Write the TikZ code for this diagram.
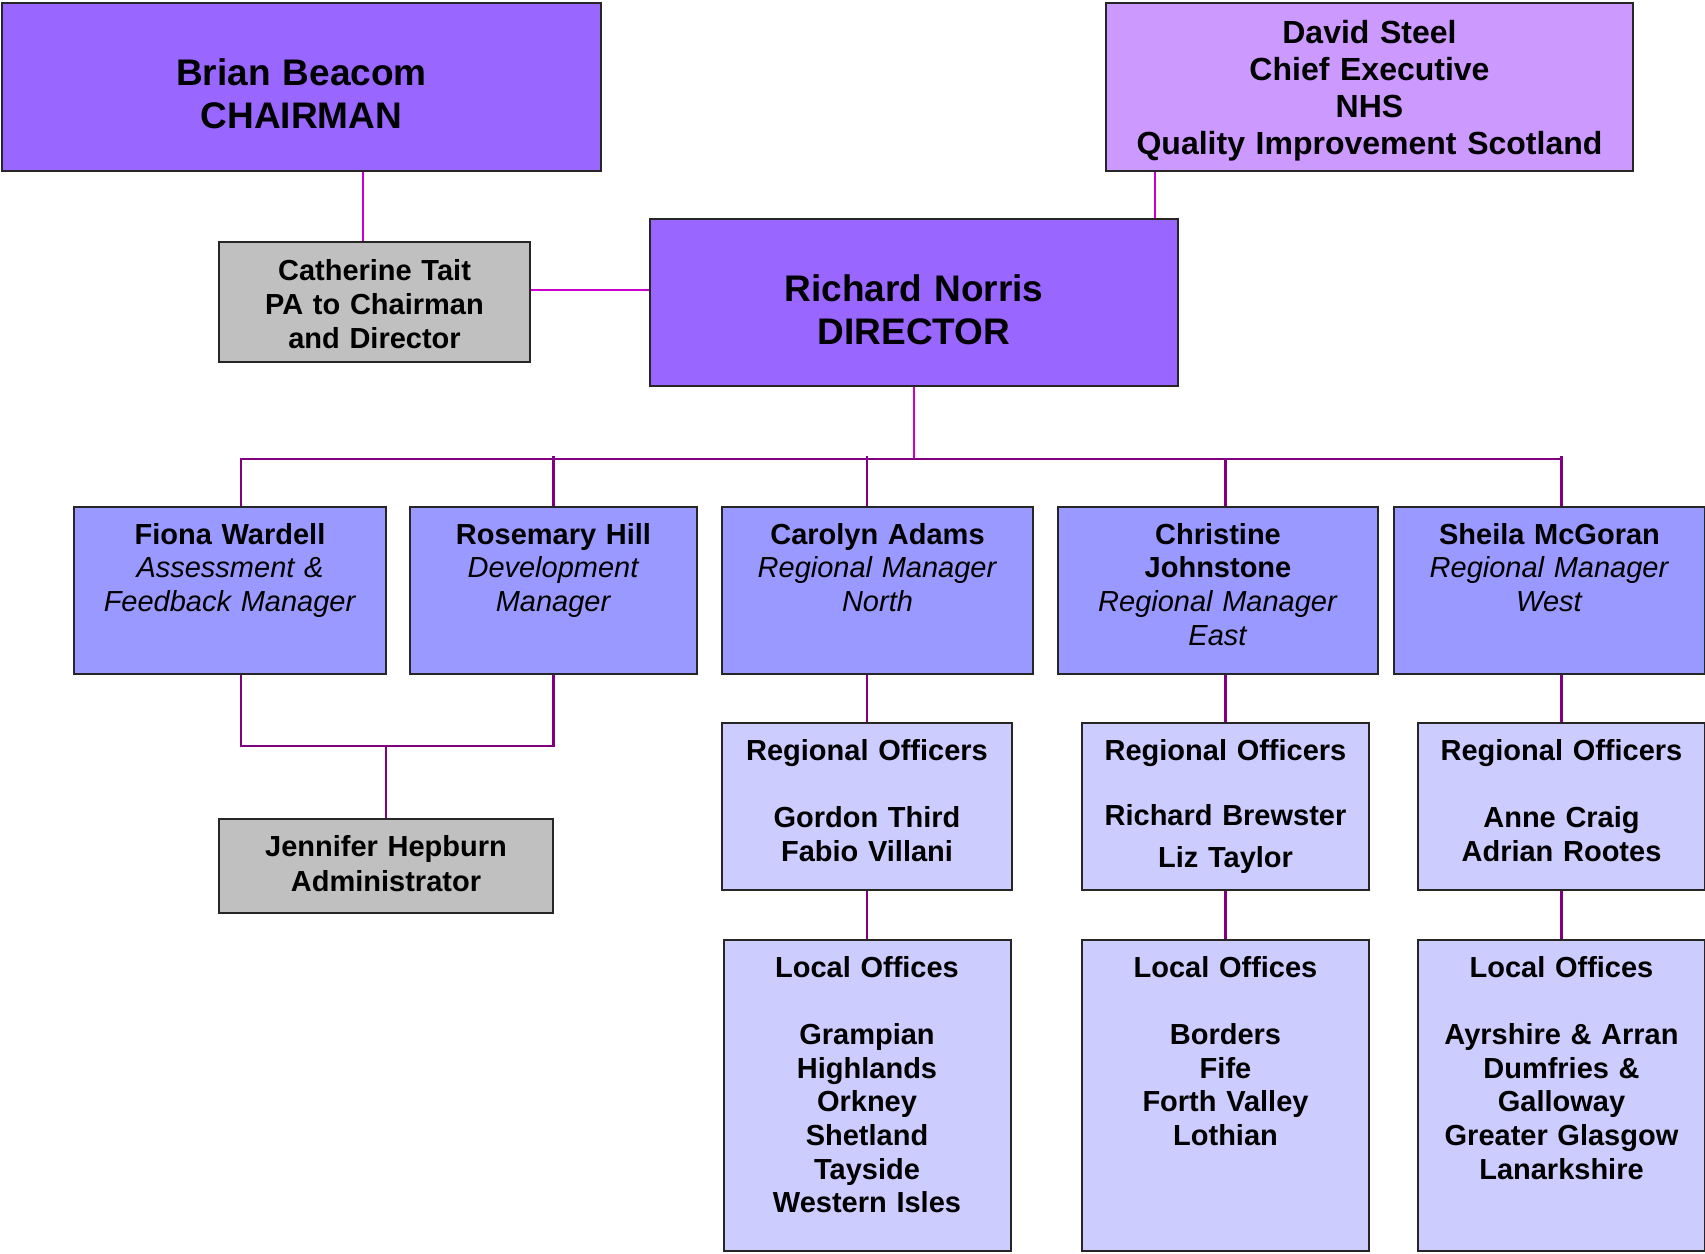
\documentclass[tikz,border=0pt]{standalone}
\usepackage{fontspec}
\setmainfont{Liberation Sans}
\usetikzlibrary{positioning}
\definecolor{chiefc}{HTML}{9966FF}
\definecolor{execc}{HTML}{CC99FF}
\definecolor{mgrc}{HTML}{9999FF}
\definecolor{palec}{HTML}{CCCCFF}
\definecolor{greyc}{HTML}{C0C0C0}
\definecolor{hilink}{HTML}{CC00CC}
\definecolor{lolink}{HTML}{800080}
\tikzset{
  card/.style={draw=black!85, line width=1pt, inner sep=0pt, align=center},
  topbox/.style n args={4}{card, text width=#1, text height=#2, text depth=#3, fill=#4},
  bigtxt/.style={font=\fontsize{18.5}{21.75}\selectfont\bfseries},
  midtxt/.style={font=\fontsize{16}{18.5}\selectfont\bfseries},
  smalltxt/.style={font=\fontsize{14.5}{16.85}\selectfont},
  smallbold/.style={font=\fontsize{14.5}{16.85}\selectfont\bfseries},
  hiline/.style={draw=hilink, line width=1pt},
  loline/.style={draw=lolink, line width=1.2pt}
}

\begin{document}
\begin{tikzpicture}[x=0.5pt, y=-0.5pt, node distance=24pt]
    \useasboundingbox (0,0) rectangle (1705,1254);

    \node[topbox={299.5pt}{41pt}{43pt}{chiefc}, bigtxt] (chair) at (301.5,87) {Brian Beacom\\CHAIRMAN};
    \node[topbox={263.5pt}{20pt}{64pt}{execc}, midtxt] (steel) at (1369.5,87) {David Steel\\Chief Executive\\NHS\\Quality Improvement Scotland};
    \node[topbox={155.5pt}{19pt}{41pt}{greyc}, font=\fontsize{14.5}{17}\selectfont\bfseries] (tait) at (374.5,302) {Catherine Tait\\PA to Chairman\\and Director};
    \node[topbox={264pt}{41.2pt}{42.3pt}{chiefc}, bigtxt] (norris) at (914,302.5) {Richard Norris\\DIRECTOR};

    \node[topbox={156pt}{18.5pt}{65pt}{mgrc}, smalltxt] (wardell) at (230,590.5) {\textbf{Fiona Wardell}\\\textit{Assessment \&}\\\textit{Feedback Manager}};
    \node[topbox={143.5pt}{18.5pt}{65pt}{mgrc}, smalltxt] (hill) at (553.5,590.5) {\textbf{Rosemary Hill}\\\textit{Development}\\\textit{Manager}};
    \node[topbox={155.5pt}{18.5pt}{65pt}{mgrc}, smalltxt] (adams) at (877.5,590.5) {\textbf{Carolyn Adams}\\\textit{Regional Manager}\\\textit{North}};
    \node[topbox={160pt}{18.5pt}{65pt}{mgrc}, smalltxt] (johnstone) at (1218,590.5) {\textbf{Christine}\\\textbf{Johnstone}\\\textit{Regional Manager}\\\textit{East}};
    \node[topbox={155.5pt}{18.5pt}{65pt}{mgrc}, smalltxt] (mcgoran) at (1549.5,590.5) {\textbf{Sheila McGoran}\\\textit{Regional Manager}\\\textit{West}};

    \node[topbox={167pt}{18.75pt}{28.25pt}{greyc}, font=\fontsize{14.5}{17.4}\selectfont\bfseries] (hepburn) at (386,866) {Jennifer Hepburn\\Administrator};

    \node[topbox={145pt}{18.5pt}{65pt}{palec}, smallbold] (ron) at (867,806.5) {Regional Officers\\[16.85pt]Gordon Third\\Fabio Villani};
    \node[topbox={143.5pt}{18.5pt}{65pt}{palec}, smallbold] (roe) at (1225.5,806.5) {Regional Officers\\[15.8pt]Richard Brewster\\[4.4pt]Liz Taylor};
    \node[topbox={143.5pt}{18.5pt}{65pt}{palec}, smallbold] (row) at (1561.5,806.5) {Regional Officers\\[16.85pt]Anne Craig\\Adrian Rootes};

    \node[topbox={143.5pt}{18.5pt}{137pt}{palec}, smallbold, below=of ron] (lon) {Local Offices\\[16.85pt]Grampian\\Highlands\\Orkney\\Shetland\\Tayside\\Western Isles};
    \node[topbox={143.5pt}{18.5pt}{137pt}{palec}, smallbold, below=of roe] (loe) {Local Offices\\[16.85pt]Borders\\Fife\\Forth Valley\\Lothian};
    \node[topbox={143.5pt}{18.5pt}{137pt}{palec}, smallbold, below=of row] (low) {Local Offices\\[16.85pt]Ayrshire \& Arran\\Dumfries \&\\Galloway\\Greater Glasgow\\Lanarkshire};

    \coordinate (bus) at (913,459);
    \coordinate (merge) at (386,746);

    \draw[hiline] ([xshift=-6pt]tait.north) -- ([xshift=-6pt]tait.north |- chair.south);
    \draw[hiline] ([yshift=6pt]tait.east) -- ([yshift=6pt]tait.east -| norris.west);
    \draw[hiline] ([xshift=-12pt]norris.north east) -- ([xshift=-12pt]norris.north east |- steel.south);
    \draw[hiline] (norris.south) -- (norris.south |- bus);

    \draw[loline] ([xshift=5.5pt]wardell.north) |- (bus) -| (row.north |- mcgoran.north);
    \draw[loline] ([yshift=1.5pt]hill.north |- bus) -- (hill.north);
    \draw[loline] ([yshift=1.5pt]ron.north |- bus) -- (ron.north |- adams.north);
    \draw[loline] (roe.north |- bus) -- (roe.north |- johnstone.north);
    \draw[loline] ([yshift=1.5pt]row.north |- bus) -- (row.north |- bus);

    \draw[loline] ([xshift=5.5pt]wardell.south) |- (merge) -| (hill.south);
    \draw[loline] (merge) -- (hepburn.north);

    \draw[loline] (ron.north |- adams.south) -- (ron.north);
    \draw[loline] (roe.north |- johnstone.south) -- (roe.north);
    \draw[loline] (row.north |- mcgoran.south) -- (row.north);
    \draw[loline] (ron.south) -- (ron.south |- lon.north);
    \draw[loline] (roe.south) -- (loe.north);
    \draw[loline] (row.south) -- (low.north);
  \end{tikzpicture}
\end{document}
